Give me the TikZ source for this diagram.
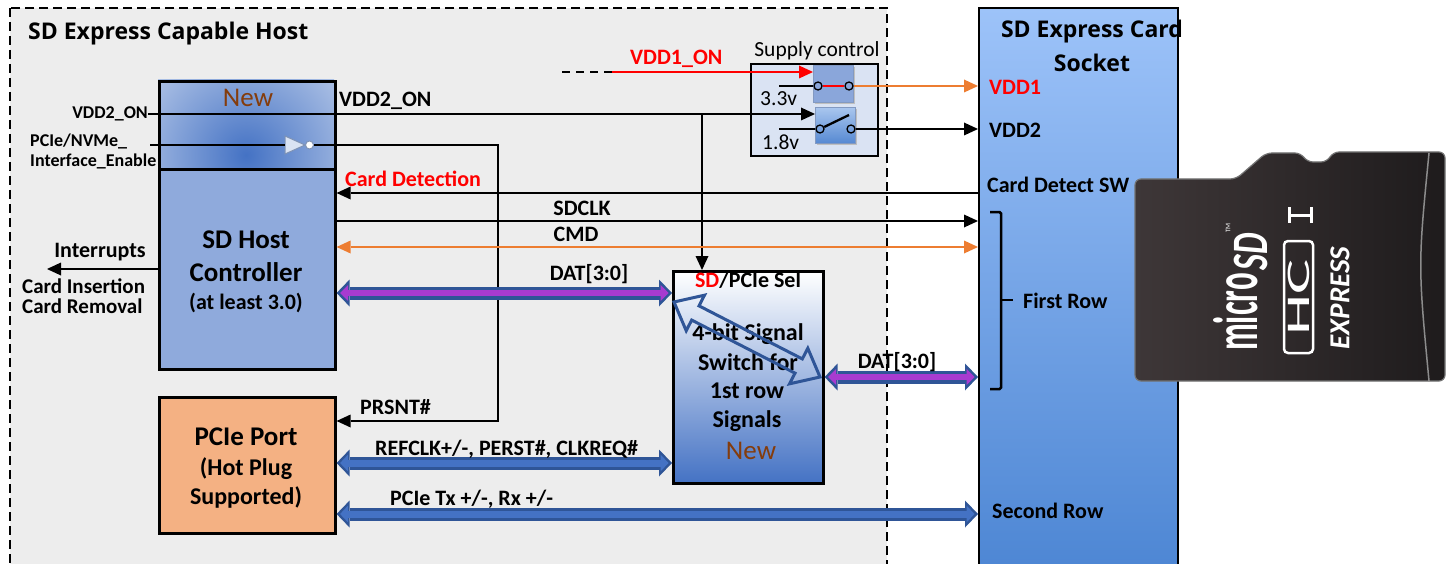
\documentclass[tikz,border=0pt]{standalone}
\usepackage{fontspec}
\setmainfont{Carlito}
\newfontfamily\headfont{Open Sans}
\usetikzlibrary{arrows.meta,calc}

\definecolor{hostbg}{HTML}{EDEDED}
\definecolor{hcfill}{HTML}{8FAADC}
\definecolor{portfill}{HTML}{F4B183}
\definecolor{supplybg}{HTML}{DAE3F3}
\definecolor{newbrown}{HTML}{843C0C}
\definecolor{cmdorange}{HTML}{ED7D31}
\definecolor{busedge}{HTML}{2F5597}
\definecolor{busblue}{HTML}{4472C4}
\definecolor{buspurple}{HTML}{A83BD0}
\definecolor{selmid}{HTML}{96B2E2}
\definecolor{socktop}{HTML}{9DC3F9}
\definecolor{sockbot}{HTML}{4580D0}
\definecolor{cardlight}{HTML}{3E3738}
\definecolor{carddark}{HTML}{1E1B1C}
\definecolor{swlight}{HTML}{A9C6EE}
\definecolor{swdark}{HTML}{5689D2}
\definecolor{sw1fill}{HTML}{8AA6DA}
\definecolor{invedge}{HTML}{7F93B5}

\tikzset{
  lbl/.style={font=\bfseries\fontsize{22}{26}\selectfont, inner sep=0pt},
  lblb/.style={font=\bfseries\fontsize{21}{24}\selectfont, inner sep=0pt},
  sm/.style={font=\bfseries\fontsize{18}{22}\selectfont, inner sep=0pt},
  reg/.style={font=\fontsize{21.5}{26}\selectfont, inner sep=0pt},
  head/.style={font=\headfont\bfseries\fontsize{23}{28}\selectfont, inner sep=0pt},
  big/.style={font=\bfseries\fontsize{27}{32}\selectfont, inner sep=0pt},
  mid/.style={font=\bfseries\fontsize{24}{29}\selectfont, inner sep=0pt},
  newtxt/.style={font=\fontsize{27}{30}\selectfont, text=newbrown, inner sep=0pt},
  blockbox/.style={draw=black, line width=2.6pt, inner sep=0pt, anchor=north west},
  wire/.style={line width=2.3pt},
  arw/.style={-{Triangle[length=14pt,width=13pt,line width=0pt]}},
  darw/.style={{Triangle[length=14pt,width=13pt,line width=0pt]}-{Triangle[length=14pt,width=13pt,line width=0pt]}},
  contact/.style={circle, draw=black, line width=1.3pt, minimum size=8pt, inner sep=0pt},
  pbus/.style={line width=13pt, draw=busedge,
    {Triangle[length=13pt,width=27pt,line width=0pt]}-{Triangle[length=13pt,width=27pt,line width=0pt]},
    postaction={draw=buspurple, line width=6pt, shorten <=3.5pt, shorten >=3.5pt,
    {Triangle[length=8pt,width=16pt,line width=0pt]}-{Triangle[length=8pt,width=16pt,line width=0pt]}}},
  bbus/.style={line width=13pt, draw=busedge,
    {Triangle[length=13pt,width=27pt,line width=0pt]}-{Triangle[length=13pt,width=27pt,line width=0pt]},
    postaction={draw=busblue, line width=7pt, shorten <=3.5pt, shorten >=3.5pt,
    {Triangle[length=8pt,width=17pt,line width=0pt]}-{Triangle[length=8pt,width=17pt,line width=0pt]}}},
}

\begin{document}
\begin{tikzpicture}[x=1pt,y=-1pt]
\useasboundingbox (0,0) rectangle (1447,564);
\clip (0,0) rectangle (1447,564);
\fill[white] (0,0) rectangle (1447,564);

% ---------- host area ----------
\draw[fill=hostbg, line width=2pt, dash pattern=on 9pt off 5pt] (10,8) rectangle (887,620);
\node[head, anchor=base west] (hosttitle) at (28,40) {SD Express Capable Host};

% ---------- card socket ----------
\node[draw=black, line width=2pt, top color=socktop, bottom color=sockbot,
      minimum width=199pt, minimum height=620pt, anchor=north west, inner sep=0pt] (socket) at (978,7) {};
\node[head, anchor=base] (socktitle) at (1092,38) {SD Express Card};
\node[head, anchor=base] (socktitle2) at (1092,72) {Socket};
\node[lbl, anchor=base west, text=red] (vdd1pin) at (989,95) {VDD1};
\node[lbl, anchor=base west] (vdd2pin) at (989,138) {VDD2};
\node[lbl, anchor=base west] (cdsw) at (987,193) {Card Detect SW};
\node[lbl, anchor=base west] (firstrow) at (1023,308) {First Row};
\node[lbl, anchor=base west] (secondrow) at (992,518) {Second Row};
% bracket grouping the first-row pins
\draw[line width=2.5pt, rounded corners=1.5pt] (990,212) -- (1001,212) -- (1001,389) -- (990,389);
\draw[line width=2.5pt] (1001,300) -- (1013,300);

% ---------- new control block on top of the host controller ----------
\begin{scope}
  \clip (158,80) rectangle (334,168);
  \fill[white] (158,80) rectangle (334,168);
  \shade[inner color=busblue, outer color=white] (246,155) circle (210pt);
\end{scope}
\node[blockbox, minimum width=176pt, minimum height=88pt] (newblk) at (158,80) {};
\node[newtxt, anchor=base] (newtop) at (248,107) {New};

% ---------- SD host controller ----------
\node[blockbox, fill=hcfill, minimum width=176pt, minimum height=200pt] (hc) at (158,168) {};
\node[big, anchor=base] (hc1) at (246,248) {SD Host};
\node[big, anchor=base] (hc2) at (246,281) {Controller};
\node[lbl, anchor=base] (hc3) at (246,309) {(at least 3.0)};

% ---------- PCIe port ----------
\node[blockbox, fill=portfill, minimum width=176pt, minimum height=136pt] (pcie) at (158,396) {};
\node[big, anchor=base] (pcie1) at (246,445) {PCIe Port};
\node[mid, anchor=base] (pcie2) at (246,475) {(Hot Plug};
\node[mid, anchor=base] (pcie3) at (246,504) {Supported)};

% ---------- SD / PCIe select switch ----------
\node[blockbox, top color=white, middle color=selmid, bottom color=busblue,
      minimum width=150pt, minimum height=212pt] (sel) at (672,270) {};
\node[lbl, anchor=base] (selhead) at (748,287) {\textcolor{red}{SD}/PCIe Sel};
\node[mid, anchor=base] (sel1) at (748,340) {4-bit Signal};
\node[mid, anchor=base] (sel2) at (748,370) {Switch for};
\node[mid, anchor=base] (sel3) at (747,398) {1st row};
\node[mid, anchor=base] (sel4) at (747,427) {Signals};
\node[newtxt, anchor=base] (selnew) at (751,459) {New};
% hollow routing arrow inside the switch
\coordinate (hA) at (674,302);
\coordinate (hB) at (820,377);
\coordinate (hAb) at ($(hA)!24pt!(hB)$);
\coordinate (hBb) at ($(hB)!24pt!(hA)$);
\draw[busedge, line width=3pt, line join=miter]
  (hA) -- ($(hAb)!20pt!90:(hB)$) -- ($(hAb)!8pt!90:(hB)$) -- ($(hBb)!8pt!-90:(hA)$)
  -- ($(hBb)!20pt!-90:(hA)$) -- (hB) -- ($(hBb)!20pt!90:(hA)$) -- ($(hBb)!8pt!90:(hA)$)
  -- ($(hAb)!8pt!-90:(hB)$) -- ($(hAb)!20pt!-90:(hB)$) -- cycle;

% ---------- supply control ----------
\node[draw=black, line width=2.3pt, fill=supplybg, minimum width=127pt, minimum height=92pt,
      anchor=north west, inner sep=0pt] (supply) at (750,63) {};
\node[reg, anchor=base] (supplylbl) at (817,57) {Supply control};
\fill[black!25] (815,67) rectangle (855,104);
\fill[black!25] (817,109) rectangle (857,145);
\node[draw=busedge!60, line width=0.8pt, fill=sw1fill, minimum width=40pt, minimum height=37pt,
      anchor=north west, inner sep=0pt] (sw1) at (813,65) {};
\node[draw=busedge!60, line width=0.8pt, top color=swlight, bottom color=swdark, minimum width=40pt,
      minimum height=36pt, anchor=north west, inner sep=0pt] (sw2) at (815,107) {};
\node[reg, anchor=base west] (v33) at (760,106) {3.3v};
\node[reg, anchor=base west] (v18) at (762,150) {1.8v};
\node[contact] (c1a) at (818,86) {};
\node[contact] (c1b) at (849,86) {};
\node[contact] (c2a) at (820,129) {};
\node[contact] (c2b) at (851,129) {};
\coordinate (in33) at (779,86);
\coordinate (in18) at (779,129);
\coordinate (lever) at (849,115);
\draw[wire] (in33) -- (c1a.west);
\draw[red, line width=2.6pt] (c1a.east) -- (c1b.west);
\draw[wire] (in18) -- (c2a.west);
\draw[wire] (c2a) -- (lever);

% supply outputs to the socket
\draw[wire, cmdorange, arw] (c1b.east) -- (socket.west |- c1b.east);
\draw[wire, arw] (c2b.east) -- (socket.west |- c2b.east);

% VDD1_ON request
\coordinate (vdd1src) at (562,72);
\coordinate (vdd1mid) at (612,72);
\draw[wire, dash pattern=on 8pt off 6pt] (vdd1src) -- (vdd1mid);
\draw[wire, red, arw] (vdd1mid) -- (sw1.west |- vdd1mid);
\node[lbl, anchor=base west, text=red] (vdd1on) at (630,65) {VDD1\_ON};

% VDD2_ON control
\node[sm, anchor=base east] (vdd2in) at (148,119) {VDD2\_ON};
\coordinate (vdd2y) at (0,114);
\coordinate (tap) at (702,114);
\draw[wire, arw] (vdd2in.east |- vdd2y) -- (sw2.west |- vdd2y);
\draw[wire, arw] (tap) -- (tap |- sel.north);
\node[lbl, anchor=base west] (vdd2out) at (339,107) {VDD2\_ON};

% PCIe/NVMe interface enable through the inverter to PRSNT#
\node[sm, anchor=base west] (enlbl1) at (30,147) {PCIe/NVMe\_};
\node[sm, anchor=base west] (enlbl2) at (30,167) {Interface\_Enable};
\coordinate (enstart) at (150,145);
\coordinate (invin) at (285,145);
\filldraw[fill=supplybg, draw=invedge, line width=1pt] (285,136) -- (305,145) -- (285,154) -- cycle;
\node[circle, draw=invedge, fill=white, line width=1pt, minimum size=8pt, inner sep=0pt] (bub) at (309.5,145) {};
\draw[line width=2pt] (enstart) -- (invin);
\coordinate (prsturn) at (498,421);
\draw[wire, arw] (bub.east) -| (prsturn) -- (pcie.east |- prsturn);
\node[lbl, anchor=base west] (prsnt) at (360,414) {PRSNT\#};

% interrupts out of the host controller
\coordinate (intend) at (47,269);
\draw[wire, arw] (hc.west |- intend) -- (intend);
\node[lbl, anchor=base] (intlbl) at (100,257) {Interrupts};
\node[lblb, anchor=base west] (ins) at (22,293) {Card Insertion};
\node[lblb, anchor=base west] (rem) at (22,313) {Card Removal};

% first-row SD signals
\coordinate (cdy) at (0,193);
\coordinate (clky) at (0,221);
\coordinate (cmdy) at (0,247);
\coordinate (daty) at (0,293);
\coordinate (dat2y) at (0,377);
\draw[wire, arw] (socket.west |- cdy) -- (hc.east |- cdy);
\node[lbl, anchor=base west, text=red] (cdlbl) at (345,186) {Card Detection};
\draw[wire, arw] (hc.east |- clky) -- (socket.west |- clky);
\node[lbl, anchor=base] (clklbl) at (582,215) {SDCLK};
\draw[wire, cmdorange, darw] (hc.east |- cmdy) -- (socket.west |- cmdy);
\node[lbl, anchor=base] (cmdlbl) at (576,241) {CMD};
\draw[pbus] (hc.east |- daty) -- (sel.west |- daty);
\node[lbl, anchor=base] (datlbl) at (589,280) {DAT[3:0]};
\draw[pbus] (sel.east |- dat2y) -- (socket.west |- dat2y);
\node[lbl, anchor=base] (dat2lbl) at (897,368) {DAT[3:0]};

% PCIe signals
\coordinate (refy) at (0,463);
\coordinate (txy) at (0,514);
\draw[bbus] (pcie.east |- refy) -- (sel.west |- refy);
\node[lbl, anchor=base west] (reflbl) at (375,455) {REFCLK+/-, PERST\#, CLKREQ\#};
\draw[bbus] (pcie.east |- txy) -- (socket.west |- txy);
\node[lbl, anchor=base west] (txlbl) at (390,505) {PCIe Tx +/-, Rx +/-};

% ---------- microSDHC Express card ----------
\shadedraw[left color=cardlight, right color=carddark, draw=black!55, line width=1.2pt, rounded corners=6pt]
  (1135,280) -- (1135,179) -- (1236,179) -- (1266,153) -- (1301,153) -- (1307,162) -- (1327,162)
  -- (1333,152) -- (1445,152) -- (1445,381) -- (1135,381) -- cycle;
\draw[black!45, line width=1.5pt] (1429,153) .. controls (1418,265) .. (1429,381);
\node[rotate=90, text=white, font=\bfseries\fontsize{33}{33}\selectfont, inner sep=0pt] (micro) at (1236,312) {\scalebox{1}[1.9]{micro}};
\node[rotate=90, text=white, font=\bfseries\itshape\fontsize{34}{34}\selectfont, inner sep=0pt] (sdlogo) at (1251,252) {\scalebox{1}[1.5]{SD}};
\node[rotate=90, text=white, font=\fontsize{7}{7}\selectfont, inner sep=0pt] (tm) at (1228,228) {TM};
\draw[white, line width=2.5pt, rounded corners=4pt] (1284,241) rectangle (1313,353);
\node[rotate=90, text=white, font=\fontsize{30}{30}\selectfont, inner sep=0pt] (hclogo) at (1298.5,297) {\scalebox{2.2}[1.1]{HC}};
\draw[white, line width=3pt] (1289,215) -- (1311,215);
\draw[white, line width=3pt] (1289,207) -- (1289,223);
\draw[white, line width=3pt] (1311,207) -- (1311,223);
\node[rotate=90, text=white, font=\bfseries\itshape\fontsize{29}{29}\selectfont, inner sep=0pt] (express) at (1340,298) {EXPRESS};
\end{tikzpicture}
\end{document}
